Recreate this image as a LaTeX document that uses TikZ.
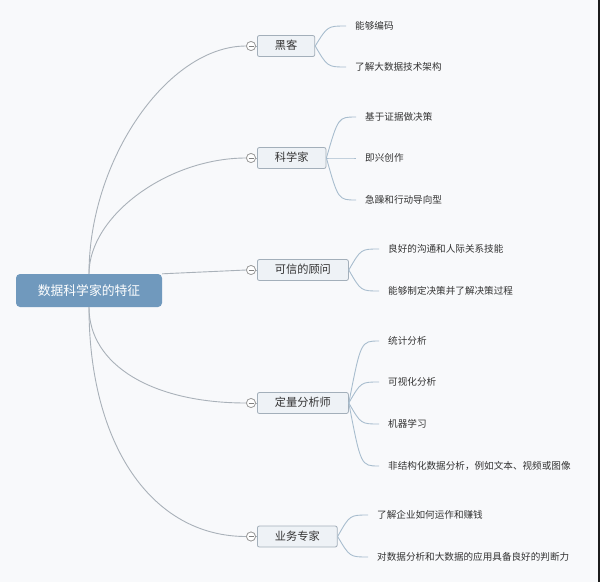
\documentclass[tikz,border=0pt]{standalone}
\usepackage{fontspec}
\setmainfont{Noto Sans CJK SC}
\usetikzlibrary{calc}
\definecolor{bgc}{HTML}{F8F9FB}
\definecolor{rootc}{HTML}{7099BD}
\definecolor{boxfill}{HTML}{EEF2F6}
\definecolor{boxdraw}{HTML}{A3AFBA}
\definecolor{mainline}{HTML}{A9B1B9}
\definecolor{leafcol}{HTML}{A8BDCE}
\definecolor{txt}{HTML}{333333}
\definecolor{edgebar}{HTML}{1C1C1C}
\newcommand\maincurve[3]{\draw[mainedge] (#1) .. controls ($(#1)!#3!(#1 |- #2.west)$) and ($(#2.west)!#3!(#1 |- #2.west)$) .. (#2.west);}
\newcommand\leafcurve[2]{\draw[leafedge] (#1.east) .. controls ($(#1.east |- #2.west)!0.4!(#2.west)$) .. (#2.west);}
\begin{document}
\begin{tikzpicture}[x=1pt,y=-1pt,
  rootbox/.style={fill=rootc, rounded corners=4pt, text=white, font=\fontsize{12.8}{14}\selectfont, minimum width=146pt, minimum height=33pt, inner sep=0pt},
  branchbox/.style={draw=boxdraw, fill=boxfill, rounded corners=2pt, line width=0.8pt, text=txt, font=\fontsize{11.2}{13}\selectfont, inner xsep=17.5pt, inner ysep=0pt, minimum height=21pt, anchor=west, text height=0.88em, text depth=0.12em},
  toggle/.style={circle, draw=gray!80, fill=white, line width=0.7pt, minimum size=9pt, inner sep=0pt, path picture={\draw[gray, line width=0.7pt] ([xshift=2pt]path picture bounding box.west) -- ([xshift=-2pt]path picture bounding box.east);}},
  leaf/.style={anchor=west, text=txt, font=\fontsize{9.6}{11}\selectfont, inner xsep=9pt, inner ysep=1pt, text height=0.88em, text depth=0.12em},
  mainedge/.style={draw=mainline, line width=0.9pt},
  leafedge/.style={draw=leafcol, line width=0.9pt}
]
\useasboundingbox (0,0) rectangle (600,582);
\fill[bgc] (0,0) rectangle (600,582);
\fill[edgebar] (598,0) rectangle (600,582);

% root
\node[rootbox] (root) at (89,290.5) {数据科学家的特征};

% toggles
\node[toggle] (c1) at (251,46) {};
\node[toggle] (c2) at (251,158) {};
\node[toggle] (c3) at (251,270) {};
\node[toggle] (c4) at (251,403) {};
\node[toggle] (c5) at (251,536.5) {};

% branch boxes
\node[branchbox] (b1) at (257,46) {黑客};
\node[branchbox] (b2) at (257,158) {科学家};
\node[branchbox] (b3) at (257,270) {可信的顾问};
\node[branchbox] (b4) at (257,403) {定量分析师};
\node[branchbox] (b5) at (257,536.5) {业务专家};

% leaves
\node[leaf] (l11) at (346,26) {能够编码};
\node[leaf] (l12) at (346,67) {了解大数据技术架构};
\node[leaf] (l21) at (356,117) {基于证据做决策};
\node[leaf] (l22) at (356,158) {即兴创作};
\node[leaf] (l23) at (356,200) {急躁和行动导向型};
\node[leaf] (l31) at (379,249) {良好的沟通和人际关系技能};
\node[leaf] (l32) at (379,291) {能够制定决策并了解决策过程};
\node[leaf] (l41) at (379,341) {统计分析};
\node[leaf] (l42) at (379,382) {可视化分析};
\node[leaf] (l43) at (379,424) {机器学习};
\node[leaf] (l44) at (379,466) {非结构化数据分析，例如文本、视频或图像};
\node[leaf] (l51) at (368,515) {了解企业如何运作和赚钱};
\node[leaf] (l52) at (368,557) {对数据分析和大数据的应用具备良好的判断力};

% main connectors
\maincurve{root.north}{c1}{0.5}
\maincurve{root.north}{c2}{0.5}
\draw[mainedge] (root.north east) -- (c3.west);
\maincurve{root.south}{c4}{0.6}
\maincurve{root.south}{c5}{0.6}

\foreach \i in {1,...,5} {\draw[mainedge] (c\i.east) -- (b\i.west);}

% leaf connectors
\leafcurve{b1}{l11}
\leafcurve{b1}{l12}
\leafcurve{b2}{l21}
\leafcurve{b2}{l22}
\leafcurve{b2}{l23}
\leafcurve{b3}{l31}
\leafcurve{b3}{l32}
\leafcurve{b4}{l41}
\leafcurve{b4}{l42}
\leafcurve{b4}{l43}
\leafcurve{b4}{l44}
\leafcurve{b5}{l51}
\leafcurve{b5}{l52}

% redraw toggles above lines
\foreach \i/\y in {1/46,2/158,3/270,4/403,5/536.5} {\node[toggle] at (251,\y) {};}
\end{tikzpicture}
\end{document}
